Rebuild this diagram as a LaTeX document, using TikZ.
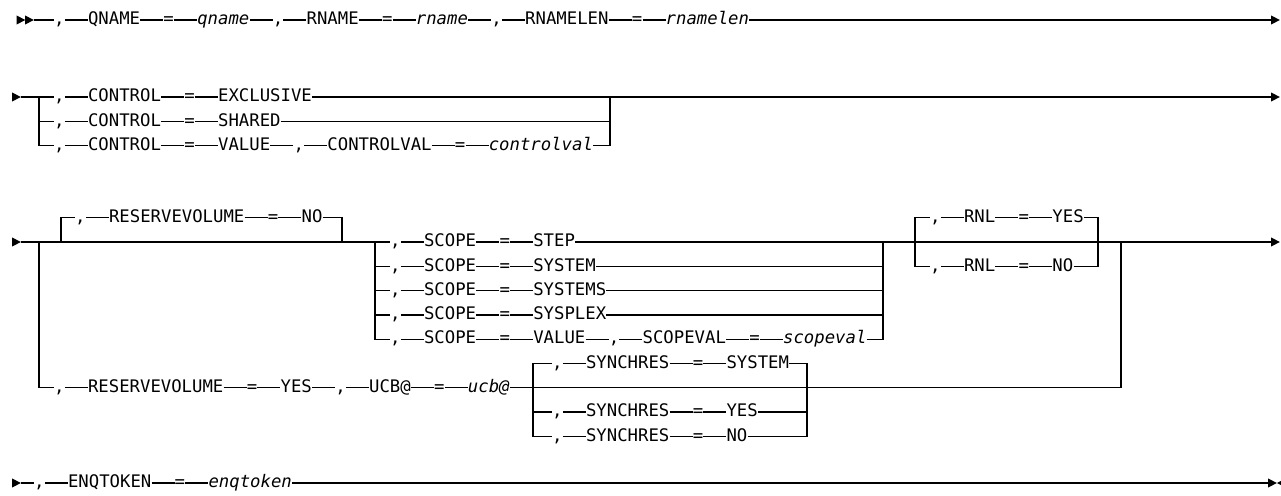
\documentclass[tikz,border=0pt]{standalone}
\usepackage{fontspec}
\newfontfamily\railfont{DejaVu Sans Mono}[ItalicFont={DejaVu Sans Mono Oblique}]
\usetikzlibrary{positioning}
\tikzset{
  tk/.style={font=\railfont\fontsize{17.3}{20}\selectfont, inner xsep=0pt, inner ysep=0pt, text height=12.6pt, text depth=3.2pt, anchor=west},
  vr/.style={tk, font=\railfont\itshape\fontsize{17.3}{20}\selectfont},
  nx/.style={tk, right=23pt of #1},
  nv/.style={vr, right=23pt of #1},
  rail/.style={line width=1.3pt, line join=miter},
  tri/.pic={\fill (0,4.6) -- (8.8,0) -- (0,-4.6) -- cycle;},
}
\begin{document}
\begin{tikzpicture}[x=1pt,y=-1pt]
\useasboundingbox (0,0) rectangle (1281,495);
% ---------- row 1 ----------
\pic at (16.5,20) {tri}; \pic at (25,20) {tri};
\coordinate (s1) at (33.8,20);
\node[tk] (a1) at (54,20) {,};
\node[nx=a1] (a2) {QNAME};
\node[nx=a2] (a3) {=};
\node[nv=a3] (a4) {qname};
\node[nx=a4] (a5) {,};
\node[nx=a5] (a6) {RNAME};
\node[nx=a6] (a7) {=};
\node[nv=a7] (a8) {rname};
\node[nx=a8] (a9) {,};
\node[nx=a9] (a10) {RNAMELEN};
\node[nx=a10] (a11) {=};
\node[nv=a11] (a12) {rnamelen};
\coordinate (e1) at (1271,20);
\pic at (1271,20) {tri};
\draw[rail] (s1) -- (a1) -- (a2) -- (a3) -- (a4) -- (a5) -- (a6) -- (a7) -- (a8) -- (a9) -- (a10) -- (a11) -- (a12) -- (e1);
% ---------- row 2 ----------
\pic at (12,97) {tri};
\coordinate (s2) at (20.8,97);
\coordinate (b2l) at (39,97);
\coordinate (b2r) at (610,97);
\coordinate (e2) at (1271,97);
\pic at (1271,97) {tri};
\node[tk] (c1) at (54,97) {,};
\node[nx=c1] (c2) {CONTROL};
\node[nx=c2] (c3) {=};
\node[nx=c3] (c4) {EXCLUSIVE};
\node[tk] (d1) at (54,121.3) {,};
\node[nx=d1] (d2) {CONTROL};
\node[nx=d2] (d3) {=};
\node[nx=d3] (d4) {SHARED};
\node[tk] (f1) at (54,145.6) {,};
\node[nx=f1] (f2) {CONTROL};
\node[nx=f2] (f3) {=};
\node[nx=f3] (f4) {VALUE};
\node[nx=f4] (f5) {,};
\node[nx=f5] (f6) {CONTROLVAL};
\node[nx=f6] (f7) {=};
\node[nv=f7] (f8) {controlval};
\draw[rail] (s2) -- (c1) -- (c2) -- (c3) -- (c4) -- (e2);
\draw[rail] (b2l) |- (d1) -- (d2) -- (d3) -- (d4) -| (b2r);
\draw[rail] (b2l) |- (f1) -- (f2) -- (f3) -- (f4) -- (f5) -- (f6) -- (f7) -- (f8) -| (b2r);
% ---------- row 3 ----------
\pic at (12,242) {tri};
\coordinate (s3) at (20.8,242);
\coordinate (L3) at (39,242);
\coordinate (m0l) at (61,242);
\coordinate (m0r) at (342,242);
\coordinate (sl) at (375,242);
\coordinate (sr) at (883,242);
\coordinate (rl) at (915,242);
\coordinate (rr) at (1098,242);
\coordinate (outer) at (1121,242);
\coordinate (e3) at (1271,242);
\pic at (1271,242) {tri};
% RESERVEVOLUME=NO (default, above)
\node[tk] (n1) at (75,217.7) {,};
\node[nx=n1] (n2) {RESERVEVOLUME};
\node[nx=n2] (n3) {=};
\node[nx=n3] (n4) {NO};
\draw[rail] (m0l) |- (n1) -- (n2) -- (n3) -- (n4) -| (m0r);
% SCOPE choices
\node[tk] (g1) at (390,242) {,};
\node[nx=g1] (g2) {SCOPE};
\node[nx=g2] (g3) {=};
\node[nx=g3] (g4) {STEP};
\node[tk] (h1) at (390,266.3) {,};
\node[nx=h1] (h2) {SCOPE};
\node[nx=h2] (h3) {=};
\node[nx=h3] (h4) {SYSTEM};
\node[tk] (i1) at (390,290.6) {,};
\node[nx=i1] (i2) {SCOPE};
\node[nx=i2] (i3) {=};
\node[nx=i3] (i4) {SYSTEMS};
\node[tk] (j1) at (390,314.9) {,};
\node[nx=j1] (j2) {SCOPE};
\node[nx=j2] (j3) {=};
\node[nx=j3] (j4) {SYSPLEX};
\node[tk] (o1) at (390,339.2) {,};
\node[nx=o1] (o2) {SCOPE};
\node[nx=o2] (o3) {=};
\node[nx=o3] (o4) {VALUE};
\node[nx=o4] (o5) {,};
\node[nx=o5] (o6) {SCOPEVAL};
\node[nx=o6] (o7) {=};
\node[nv=o7] (o8) {scopeval};
\draw[rail] (s3) -- (g1) -- (g2) -- (g3) -- (g4) -- (e3);
\draw[rail] (sl) |- (h1) -- (h2) -- (h3) -- (h4) -| (sr);
\draw[rail] (sl) |- (i1) -- (i2) -- (i3) -- (i4) -| (sr);
\draw[rail] (sl) |- (j1) -- (j2) -- (j3) -- (j4) -| (sr);
\draw[rail] (sl) |- (o1) -- (o2) -- (o3) -- (o4) -- (o5) -- (o6) -- (o7) -- (o8) -| (sr);
% RNL
\node[tk] (k1) at (930,217.7) {,};
\node[nx=k1] (k2) {RNL};
\node[nx=k2] (k3) {=};
\node[nx=k3] (k4) {YES};
\node[tk] (l1) at (930,266.3) {,};
\node[nx=l1] (l2) {RNL};
\node[nx=l2] (l3) {=};
\node[nx=l3] (l4) {NO};
\draw[rail] (rl) |- (k1) -- (k2) -- (k3) -- (k4) -| (rr);
\draw[rail] (rl) |- (l1) -- (l2) -- (l3) -- (l4) -| (rr);
% RESERVEVOLUME=YES path
\coordinate (ql) at (533,387.8);
\coordinate (qr) at (807,387.8);
\node[tk] (y1) at (54,387.8) {,};
\node[nx=y1] (y2) {RESERVEVOLUME};
\node[nx=y2] (y3) {=};
\node[nx=y3] (y4) {YES};
\node[nx=y4] (y5) {,};
\node[nx=y5] (y6) {UCB@};
\node[nx=y6] (y7) {=};
\node[nv=y7] (y8) {ucb@};
\draw[rail] (L3) |- (y1) -- (y2) -- (y3) -- (y4) -- (y5) -- (y6) -- (y7) -- (y8) -- (ql) -- (qr) -| (outer);
% SYNCHRES
\node[tk] (z1) at (552,363.5) {,};
\node[nx=z1] (z2) {SYNCHRES};
\node[nx=z2] (z3) {=};
\node[nx=z3] (z4) {SYSTEM};
\node[tk] (u1) at (552,412.1) {,};
\node[nx=u1] (u2) {SYNCHRES};
\node[nx=u2] (u3) {=};
\node[nx=u3] (u4) {YES};
\node[tk] (w1) at (552,436.4) {,};
\node[nx=w1] (w2) {SYNCHRES};
\node[nx=w2] (w3) {=};
\node[nx=w3] (w4) {NO};
\draw[rail] (ql) |- (z1) -- (z2) -- (z3) -- (z4) -| (qr);
\draw[rail] (ql) |- (u1) -- (u2) -- (u3) -- (u4) -| (qr);
\draw[rail] (ql) |- (w1) -- (w2) -- (w3) -- (w4) -| (qr);
% ---------- row 4 ----------
\pic at (12,483) {tri};
\coordinate (s4) at (20.8,483);
\node[tk] (t1) at (34,483) {,};
\node[nx=t1] (t2) {ENQTOKEN};
\node[nx=t2] (t3) {=};
\node[nv=t3] (t4) {enqtoken};
\coordinate (e4) at (1268,483);
\pic at (1268,483) {tri};
\fill (1277,483) -- (1285.8,478.4) -- (1285.8,487.6) -- cycle;
\draw[rail] (s4) -- (t1) -- (t2) -- (t3) -- (t4) -- (e4);
\end{tikzpicture}
\end{document}
